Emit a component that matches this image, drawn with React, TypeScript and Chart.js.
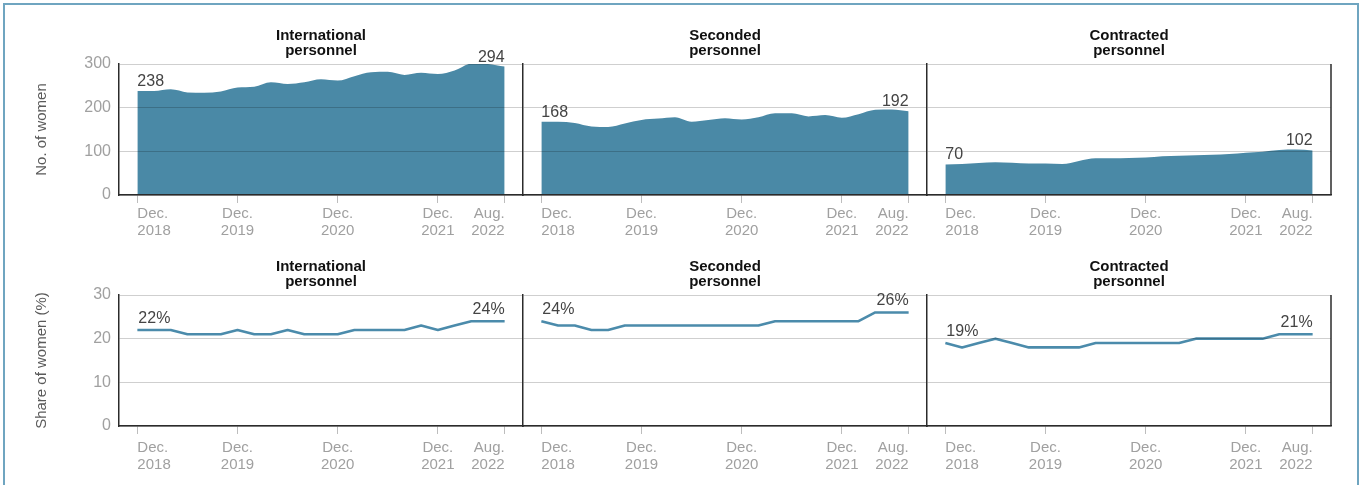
import React, { useEffect, useRef } from 'react';
import { Chart, registerables } from 'chart.js';

Chart.register(...registerables);

// ---- Data ----
const periods = [
  'Dec 2018', 'Feb 2019', 'Apr 2019', 'Jun 2019', 'Aug 2019', 'Oct 2019',
  'Dec 2019', 'Feb 2020', 'Apr 2020', 'Jun 2020', 'Aug 2020', 'Oct 2020',
  'Dec 2020', 'Feb 2021', 'Apr 2021', 'Jun 2021', 'Aug 2021', 'Oct 2021',
  'Dec 2021', 'Feb 2022', 'Apr 2022', 'Jun 2022', 'Aug 2022',
];
// months elapsed since Dec 2018 for each period
const periodMonth = [0, 2, 4, 6, 8, 10, 12, 14, 16, 18, 20, 22, 24, 26, 28, 30, 32, 34, 36, 38, 40, 42, 44];

const tickMonths = [0, 12, 24, 36, 44];
const tickLabels = [
  ['Dec.', '2018'],
  ['Dec.', '2019'],
  ['Dec.', '2020'],
  ['Dec.', '2021'],
  ['Aug.', '2022'],
];

const panelTitles = [
  ['International', 'personnel'],
  ['Seconded', 'personnel'],
  ['Contracted', 'personnel'],
];

const countTicks = [0, 100, 200, 300];
const shareTicks = [0, 10, 20, 30];
const rowTitles = ['No. of women', 'Share of women (%)'];

const internationalCount = [238, 238, 242, 235, 234, 237, 246, 248, 258, 254, 258, 265, 262, 272, 281, 282, 275, 280, 277, 285, 301, 300, 294];
const secondedCount = [168, 168, 165, 157, 156, 164, 172, 175, 178, 168, 172, 176, 173, 178, 187, 187, 180, 183, 177, 185, 195, 196, 192];
const contractedCount = [70, 71, 73, 75, 74, 72, 72, 71, 78, 84, 84, 85, 86, 89, 90, 91, 92, 94, 97, 99, 103, 104, 102];

const internationalShare = [22, 22, 22, 21, 21, 21, 22, 21, 21, 22, 21, 21, 21, 22, 22, 22, 22, 23, 22, 23, 24, 24, 24];
const secondedShare = [24, 23, 23, 22, 22, 23, 23, 23, 23, 23, 23, 23, 23, 23, 24, 24, 24, 24, 24, 24, 26, 26, 26];
const contractedShare = [19, 18, 19, 20, 19, 18, 18, 18, 18, 19, 19, 19, 19, 19, 19, 20, 20, 20, 20, 20, 21, 21, 21];

const countSeries = [internationalCount, secondedCount, contractedCount];
const shareSeries = [internationalShare, secondedShare, contractedShare];

// ---- Styles ----
const FONT = "'Liberation Sans', Arial, sans-serif";
const AREA = '#4a89a6';
const LINE = '#4b8bab';
const AXIS = '#2b2b2b';
const TICK_TEXT = '#a0a0a0';

Chart.defaults.font.family = FONT;

const panelDeco = {
  id: 'panelDeco',
  afterDraw(chart: any, _args: any, opts: any) {
    const { ctx, chartArea } = chart;
    ctx.save();
    // panel title
    ctx.font = `bold 15px ${FONT}`;
    ctx.fillStyle = '#111';
    ctx.textAlign = 'center';
    ctx.textBaseline = 'alphabetic';
    const cx = (chartArea.left + chartArea.right) / 2;
    ctx.fillText(opts.lines[0], cx, chartArea.top - 24.5);
    ctx.fillText(opts.lines[1], cx, chartArea.top - 9.5);
    // closing right border
    if (opts.rightBorder) {
      ctx.strokeStyle = AXIS;
      ctx.lineWidth = 1.5;
      ctx.beginPath();
      ctx.moveTo(chartArea.right, chartArea.top);
      ctx.lineTo(chartArea.right, chartArea.bottom);
      ctx.stroke();
    }
    // first / last value labels
    const meta = chart.getDatasetMeta(0);
    const data = chart.data.datasets[0].data;
    const first = meta.data[0];
    const last = meta.data[meta.data.length - 1];
    ctx.font = `16px ${FONT}`;
    ctx.fillStyle = '#444';
    ctx.textAlign = 'left';
    ctx.fillText(`${data[0].y}${opts.suffix}`, first.x + opts.dx, first.y - opts.gap);
    ctx.textAlign = 'right';
    ctx.fillText(`${data[data.length - 1].y}${opts.suffix}`, last.x, last.y - opts.gap);
    ctx.restore();
  },
};

function Panel({ row, col }: { row: number; col: number }) {
  const ref = useRef<HTMLCanvasElement>(null);
  const plotLeft = 119 + 404 * col;
  const yW = col === 0 ? 119 : 10;
  const left = plotLeft - yW;
  const padR = 6;
  const width = yW + 404 + padR;
  const top = row === 0 ? 0 : 245;
  const height = row === 0 ? 245 : 240;
  const padTop = row === 0 ? 64 : 50;
  const xH = row === 0 ? 50 : 59;

  useEffect(() => {
    const values = row === 0 ? countSeries[col] : shareSeries[col];
    const points = periodMonth.map((m, i) => ({ x: m, y: values[i] }));
    const dataset: any =
      row === 0
        ? {
            label: periods.join(','),
            data: points,
            fill: 'origin',
            backgroundColor: AREA,
            borderColor: AREA,
            borderWidth: 0,
            pointRadius: 0,
            cubicInterpolationMode: 'monotone',
          }
        : {
            label: periods.join(','),
            data: points,
            fill: false,
            borderColor: LINE,
            borderWidth: 2.6,
            borderJoinStyle: 'round',
            pointRadius: 0,
            tension: 0,
          };
    const yTicks = row === 0 ? countTicks : shareTicks;
    const chart = new Chart(ref.current as HTMLCanvasElement, {
      type: 'line',
      data: { datasets: [dataset] },
      plugins: [panelDeco],
      options: {
        animation: false,
        responsive: false,
        devicePixelRatio: 1,
        layout: { padding: { top: padTop, right: padR, bottom: 0, left: 0 } },
        plugins: {
          legend: { display: false },
          tooltip: { enabled: false },
          panelDeco: {
            lines: panelTitles[col],
            rightBorder: col === 2,
            suffix: row === 0 ? '' : '%',
            gap: row === 0 ? 5 : 7,
            dx: row === 0 ? 0 : 1,
          },
        } as any,
        scales: {
          x: {
            type: 'linear',
            min: -2.2,
            max: 46.2,
            afterBuildTicks: (s: any) => {
              s.ticks = tickMonths.map((v) => ({ value: v }));
            },
            afterFit: (s: any) => {
              s.height = xH;
            },
            grid: { drawOnChartArea: false, drawTicks: true, tickLength: 8, color: '#bdbdbd', lineWidth: 1 },
            border: { display: true, color: AXIS, width: 1.5, z: 1 },
            ticks: {
              autoSkip: false,
              maxRotation: 0,
              minRotation: 0,
              align: 'inner',
              padding: row === 0 ? 3 : 6,
              color: TICK_TEXT,
              font: { size: 15, lineHeight: 1.1 },
              callback: (_v: any, i: number) => tickLabels[i],
            },
          } as any,
          y: {
            type: 'linear',
            min: 0,
            max: row === 0 ? 300 : 30,
            afterBuildTicks: (s: any) => {
              s.ticks = yTicks.map((v) => ({ value: v }));
            },
            afterFit: (s: any) => {
              s.width = yW;
            },
            grid: { color: 'rgba(0,0,0,0.19)', lineWidth: 1, drawTicks: false, z: 1 },
            border: { display: true, color: AXIS, width: 1.5, z: 1 },
            ticks: {
              display: col === 0,
              padding: 8,
              color: TICK_TEXT,
              font: { size: 16 },
            },
            title: {
              display: col === 0,
              text: rowTitles[row],
              color: '#5a5a5a',
              font: { size: 15 },
              padding: { top: 33, bottom: 0 },
            },
          } as any,
        },
      },
    });
    return () => chart.destroy();
  }, []);

  return (
    <div style={{ position: 'absolute', left, top, width, height }}>
      <canvas ref={ref} width={width} height={height} style={{ display: 'block', width, height }} />
    </div>
  );
}

export default function App() {
  const cells: Array<[number, number]> = [];
  for (let r = 0; r < 2; r++) for (let c = 0; c < 3; c++) cells.push([r, c]);
  return (
    <div
      style={{
        position: 'fixed',
        left: 0,
        top: 0,
        width: 1365,
        height: 485,
        overflow: 'hidden',
        background: '#fff',
      }}
    >
      <div
        style={{
          position: 'absolute',
          left: 3,
          top: 3,
          width: 1352,
          height: 600,
          border: '2px solid #6fa5c0',
        }}
      />
      {cells.map(([r, c]) => (
        <Panel key={`${r}-${c}`} row={r} col={c} />
      ))}
    </div>
  );
}
